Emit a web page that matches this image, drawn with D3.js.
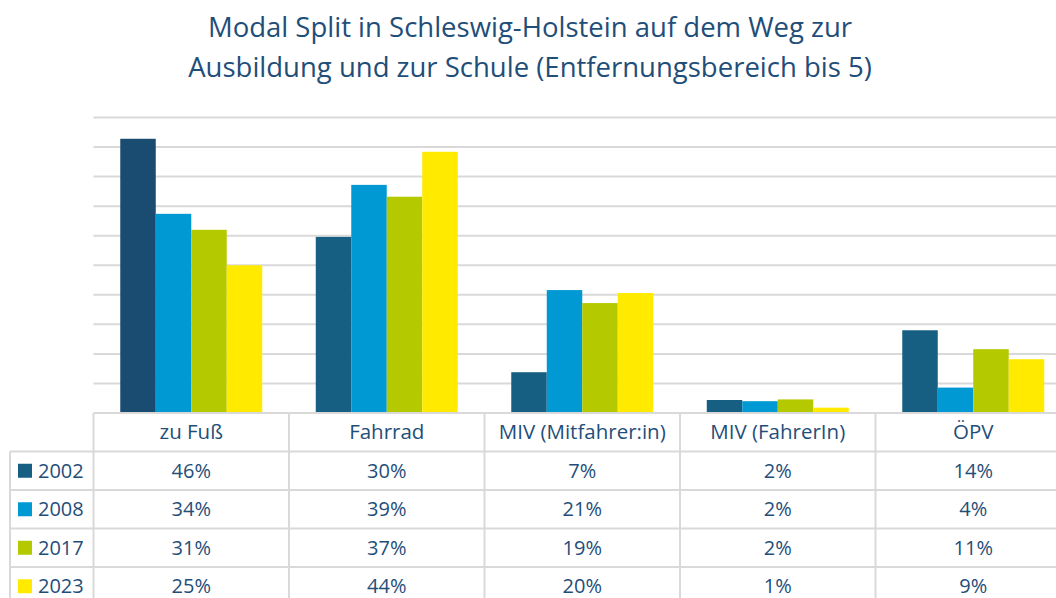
<!DOCTYPE html>
<html>
<head>
<meta charset="utf-8">
<script src="https://cdn.jsdelivr.net/npm/d3@7"></script>
<style>
  body { margin: 0; background: #fff; }
  svg { display: block; font-family: "Open Sans", sans-serif; }
</style>
</head>
<body>
<svg id="chart" width="1056" height="598"></svg>
<script>
// data
var categories = ["zu Fuß", "Fahrrad", "MIV (Mitfahrer:in)", "MIV (FahrerIn)", "ÖPV"];
var years = ["2002", "2008", "2017", "2023"];
var v2002 = [46.4, 29.8, 6.9, 2.2, 14.0];
var v2008 = [33.7, 38.6, 20.8, 2.0, 4.3];
var v2017 = [31.0, 36.6, 18.6, 2.3, 10.8];
var v2023 = [25.0, 44.2, 20.3, 0.9, 9.1];
var yTicks = [0, 5, 10, 15, 20, 25, 30, 35, 40, 45, 50];

var series = [v2002, v2008, v2017, v2023];
var colors = ["#175f82", "#0099d3", "#b5c900", "#ffea00"];
var textColor = "#1f4e79";
var lineColor = "#d9d9d9";

var svg = d3.select("#chart");

// title
svg.append("text")
    .attr("x", 530).attr("y", 37)
    .attr("text-anchor", "middle")
    .attr("font-size", 27.5)
    .attr("fill", textColor)
    .selectAll("tspan")
    .data(["Modal Split in Schleswig-Holstein auf dem Weg zur", "Ausbildung und zur Schule (Entfernungsbereich bis 5)"])
    .enter().append("tspan")
    .attr("x", 530)
    .attr("dy", function(d, i) { return i == 0 ? 0 : 40; })
    .text(function(d) { return d; });

var left = 93.5, colW = 195.5;
var x = d3.scaleBand().domain(categories).range([left, left + colW * categories.length]).padding(0);
var xs = d3.scaleBand().domain(years).range([0, colW]).paddingInner(0).paddingOuter(0.754);
var y = d3.scaleLinear().domain([0, 50]).range([413, 117.5]);

// gridlines
svg.append("g").selectAll("line")
    .data(yTicks.slice(1))
    .enter().append("line")
    .attr("x1", left).attr("x2", 1100)
    .attr("y1", function(d) { return y(d); })
    .attr("y2", function(d) { return y(d); })
    .attr("stroke", lineColor).attr("stroke-width", 2);

// bars
var groups = svg.append("g").selectAll("g")
    .data(series)
    .enter().append("g")
    .attr("fill", function(d, i) { return colors[i]; });

groups.selectAll("rect")
    .data(function(d, i) { return d.map(function(v, j) { return { year: years[i], cat: categories[j], value: v, s: i, c: j }; }); })
    .enter().append("rect")
    .attr("x", function(d) { return x(d.cat) + xs(d.year); })
    .attr("width", xs.bandwidth())
    .attr("y", function(d) { return y(d.value); })
    .attr("height", function(d) { return y(0) - y(d.value); })
    .attr("fill", function(d) { return d.s == 0 && d.c == 0 ? "#1a4b71" : null; });

// data table
var rows = d3.scaleBand().domain(["head"].concat(years)).range([413, 413 + 38.5 * 5]);
var tbl = svg.append("g");
var right = 1100;

// horizontal lines
tbl.selectAll("line.h")
    .data(rows.domain())
    .enter().append("line")
    .attr("x1", function(d) { return d == "head" ? left : 10; })
    .attr("x2", right)
    .attr("y1", function(d) { return rows(d); })
    .attr("y2", function(d) { return rows(d); })
    .attr("stroke", lineColor).attr("stroke-width", 2);

// vertical lines
var vx = categories.map(function(c) { return x(c); }).concat([x(categories[4]) + colW]);
tbl.selectAll("line.v")
    .data(vx)
    .enter().append("line")
    .attr("x1", function(d) { return d; }).attr("x2", function(d) { return d; })
    .attr("y1", rows("head")).attr("y2", 598)
    .attr("stroke", lineColor).attr("stroke-width", 2);
tbl.append("line")
    .attr("x1", 10).attr("x2", 10)
    .attr("y1", rows(years[0])).attr("y2", 598)
    .attr("stroke", lineColor).attr("stroke-width", 2);

// header labels
tbl.selectAll("text.cat")
    .data(categories)
    .enter().append("text")
    .attr("x", function(d) { return x(d) + colW / 2; })
    .attr("y", rows("head") + rows.bandwidth() / 2)
    .attr("dy", "0.35em")
    .attr("text-anchor", "middle")
    .attr("font-size", 20.5)
    .attr("fill", textColor)
    .text(function(d) { return d; });

// row labels with legend keys
var rowG = tbl.selectAll("g.row")
    .data(years)
    .enter().append("g")
    .attr("transform", function(d) { return "translate(0," + (rows(d) + rows.bandwidth() / 2) + ")"; });

rowG.append("rect")
    .attr("x", 18).attr("y", -7).attr("width", 14).attr("height", 14)
    .attr("fill", function(d, i) { return colors[i]; });

rowG.append("text")
    .attr("x", 38).attr("dy", "0.35em")
    .attr("font-size", 20)
    .attr("fill", textColor)
    .text(function(d) { return d; });

rowG.selectAll("text.val")
    .data(function(d, i) { return series[i]; })
    .enter().append("text")
    .attr("x", function(d, j) { return x(categories[j]) + colW / 2; })
    .attr("dy", "0.35em")
    .attr("text-anchor", "middle")
    .attr("font-size", 20)
    .attr("fill", textColor)
    .text(function(d) { return Math.round(d) + "%"; });
</script>
</body>
</html>
